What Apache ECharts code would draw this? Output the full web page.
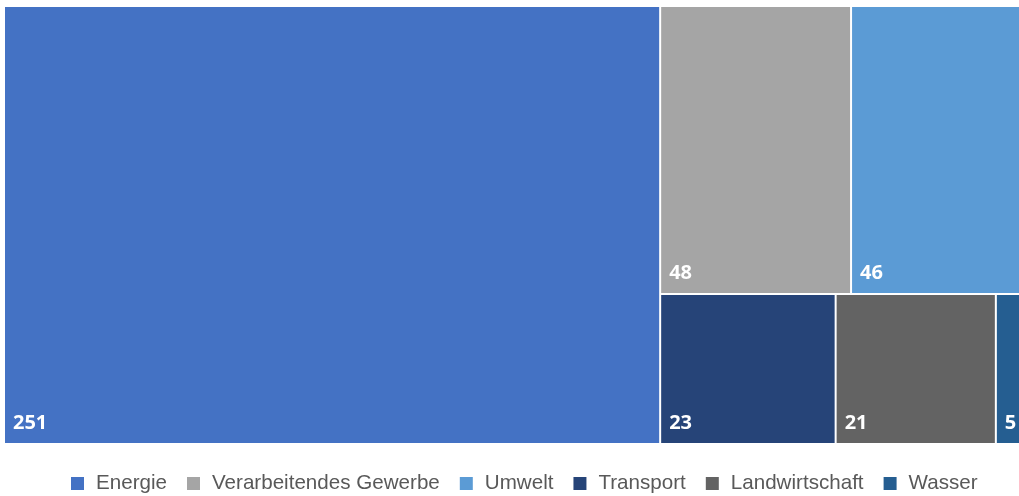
<!DOCTYPE html>
<html>
<head>
<meta charset="utf-8">
<script src="https://cdn.jsdelivr.net/npm/echarts@6/dist/echarts.min.js"></script>
<style>
html,body{margin:0;padding:0;background:#fff;}
#chart{width:1019px;height:496px;}
</style>
</head>
<body>
<div id="chart"></div>
<script>
const categories = ['Energie', 'Verarbeitendes Gewerbe', 'Umwelt', 'Transport', 'Landwirtschaft', 'Wasser'];
const values = [251, 48, 46, 23, 21, 5];
const colors = ['#4472C4', '#A5A5A5', '#5B9BD5', '#264478', '#636363', '#255E91'];

const treeData = categories.map((c, i) => ({
  name: c, value: values[i], itemStyle: { color: colors[i] }
}));
const legendData = categories.map((c, i) => ({
  name: c, value: 0, itemStyle: { color: colors[i] }
}));

const chart = echarts.init(document.getElementById('chart'), null, { renderer: 'canvas' });
chart.setOption({
  animation: false,
  legend: {
    bottom: 2,
    left: 71,
    padding: 0,
    icon: 'rect',
    itemWidth: 13,
    itemHeight: 13,
    itemGap: 20,
    selectedMode: false,
    textStyle: { fontFamily: 'Liberation Sans, Arial, sans-serif', fontSize: 20.6, color: '#595959', padding: [0, 0, 0, 7] },
    data: categories
  },
  series: [
    {
      type: 'treemap',
      left: 5,
      top: 7,
      width: 1028,
      height: 436,
      roam: false,
      nodeClick: false,
      breadcrumb: { show: false },
      itemStyle: { borderColor: '#fff', borderWidth: 0, gapWidth: 2 },
      label: {
        show: true,
        position: 'insideBottomLeft',
        distance: 8,
        padding: [0, 0, 2, 0],
        formatter: p => String(p.value),
        color: '#fff',
        fontWeight: 'bold',
        fontSize: 20,
        fontFamily: 'Open Sans, Calibri, sans-serif'
      },
      levels: [{ itemStyle: { borderWidth: 0, gapWidth: 2, borderColor: '#fff' } }],
      data: treeData
    },
    {
      type: 'pie',
      radius: [0, 0],
      center: [-100, -100],
      silent: true,
      label: { show: false },
      stillShowZeroSum: false,
      data: legendData
    }
  ]
});
</script>
</body>
</html>
